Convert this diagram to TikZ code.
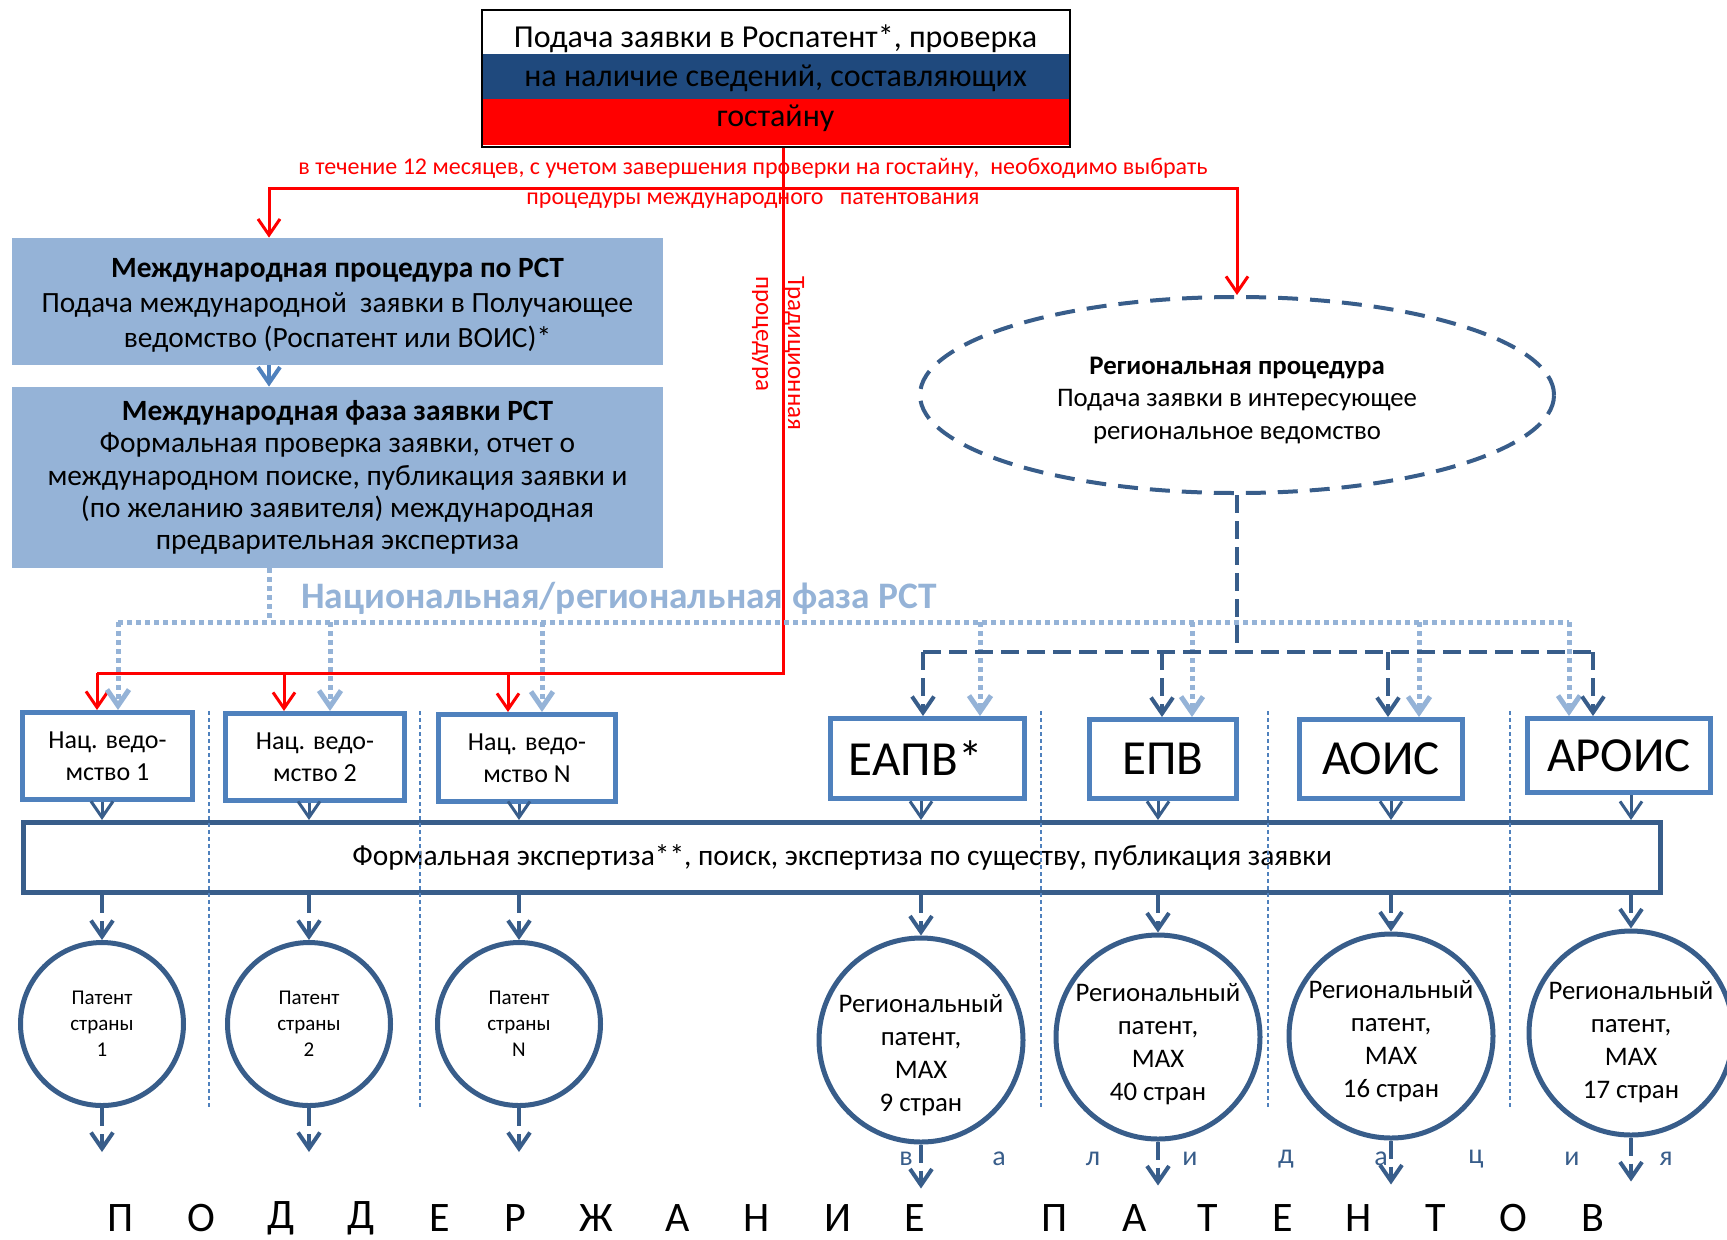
\documentclass[tikz,border=0pt]{standalone}
\usepackage{fontspec}
\setmainfont{Carlito}
\usepackage{tikz}
\usetikzlibrary{positioning}
\usetikzlibrary{arrows.meta}
\usetikzlibrary{shapes.geometric}
\usepackage{xcolor}
\definecolor{flagblue}{RGB}{31,73,125}
\definecolor{pctblue}{RGB}{149,179,215}
\definecolor{boxblue}{RGB}{79,129,189}
\definecolor{dkblue}{RGB}{56,93,138}

\begin{document}
\begin{tikzpicture}[x=0.5pt, y=-0.5pt, >={Straight Barb[length=8pt,width=11pt]},
    redline/.style={draw=red, line width=1.5pt},
    dkdash/.style={draw=dkblue, line width=2pt, dash pattern=on 9pt off 4pt},
    dkline/.style={draw=dkblue, line width=1.5pt},
    ltdot/.style={draw=pctblue, line width=2.5pt, dash pattern=on 2.5pt off 2pt},
    sep/.style={draw=boxblue, line width=0.75pt, dash pattern=on 2pt off 1.5pt},
    pctbox/.style={fill=pctblue, inner sep=0pt, align=center},
    natbox/.style={draw=boxblue, line width=2.5pt, inner sep=0pt, align=center, font=\fontsize{13}{16}\selectfont},
    regbox/.style={draw=boxblue, line width=2.5pt, inner sep=0pt, font=\fontsize{24.5}{28}\selectfont},
    patent/.style={circle, draw=dkblue, line width=2.5pt, inner sep=0pt, align=center},
    ptext/.style={align=center, inner sep=0pt, font=\fontsize{13.4}{16.5}\selectfont}]
    \useasboundingbox (0,0) rectangle (1727,1239);

    % top box in flag colours
    \fill[white] (481,7) rectangle (1070,54);
    \fill[flagblue] (481,54) rectangle (1070,99);
    \fill[red] (481,99) rectangle (1070,145);
    \node[draw, line width=1pt, minimum width=294pt, minimum height=68.5pt, inner sep=0pt, align=center,
        font=\fontsize{16}{19.75}\selectfont] (podacha) at (775.5,78)
        {Подача заявки в Роспатент*, проверка\\на наличие сведений, составляющих\\гостайну};

    \node[red, align=center, font=\fontsize{12}{15}\selectfont] (srok) at (753,183)
        {в течение 12 месяцев, с учетом завершения проверки на гостайну,\ \ необходимо выбрать\\процедуры международного\ \ \ патентования};

    % PCT
    \node[pctbox, minimum width=325.5pt, minimum height=63.5pt, font=\fontsize{14.7}{17.5}\selectfont] (mpct) at (337.5,301.5)
        {\rule{0pt}{13pt}\textbf{Международная процедура по РСТ}\\Подача международной\ \ заявки в Получающее\\ведомство (Роспатент или ВОИС)*};
    \node[pctbox, minimum width=325.5pt, minimum height=90.5pt, font=\fontsize{14.7}{16.1}\selectfont] (mfaza) at (337.5,477.5)
        {\textbf{Международная фаза заявки РСТ}\\Формальная проверка заявки, отчет о\\международном поиске, публикация заявки и\\(по желанию заявителя) международная\\предварительная экспертиза};

    \node[ellipse, draw=dkblue, line width=2pt, dash pattern=on 10pt off 6pt, minimum width=317pt, minimum height=98pt,
        align=center, font=\fontsize{13.4}{16.25}\selectfont] (reg) at (1237,395)
        {\rule{0pt}{14pt}\textbf{Региональная процедура}\\Подача заявки в интересующее\\региональное ведомство};

    \node[rotate=-90, anchor=west, inner sep=0pt, red, align=left, font=\fontsize{12.5}{16}\selectfont] (trad) at (778,276)
        {Традиционная\\процедура};

    \node[pctblue, font=\fontsize{18.7}{20}\selectfont\bfseries] (nacfaza) at (619,598)
        {Национальная/региональная фаза РСТ};

    % offices
    \node[natbox, minimum width=85pt, minimum height=43.5pt] (nat1) at (107.5,756) {Нац. ведо-\\мство 1};
    \node[natbox, minimum width=89.5pt, minimum height=43.5pt] (nat2) at (315,757) {Нац. ведо-\\мство 2};
    \node[natbox, minimum width=88.5pt, minimum height=43.5pt] (natn) at (527,758) {Нац. ведо-\\мство N};
    \node[regbox, minimum width=97pt, minimum height=40pt] (eapv) at (927.5,758.5) {ЕАПВ*\hspace*{12pt}};
    \node[regbox, minimum width=73.5pt, minimum height=39.5pt] (epv) at (1163,759) {ЕПВ};
    \node[regbox, minimum width=81.5pt, minimum height=39.5pt] (aois) at (1381,759) {АОИС};
    \node[regbox, minimum width=91.5pt, minimum height=37pt] (arois) at (1619,755.5) {АРОИС};

    \node[draw=dkblue, line width=2.5pt, minimum width=818.5pt, minimum height=35pt, inner sep=0pt,
        font=\fontsize{14.7}{16}\selectfont] (ekspertiza) at (842,857.5)
        {Формальная экспертиза**, поиск, экспертиза по существу, публикация заявки};

    % patents
    \node[patent, minimum size=81.5pt, font=\fontsize{10.5}{13}\selectfont] (pat1) at (102,1024) {Патент\\страны\\1};
    \node[patent, minimum size=81.5pt, font=\fontsize{10.5}{13}\selectfont] (pat2) at (309,1024) {Патент\\страны\\2};
    \node[patent, minimum size=81.5pt, font=\fontsize{10.5}{13}\selectfont] (patn) at (519,1024) {Патент\\страны\\N};
    \node[patent, minimum size=102pt, label={[ptext,yshift=-7.5pt]center:Региональный\\патент,\\MAX\\9 стран}] (peapv) at (921,1040) {};
    \node[patent, minimum size=102pt, label={[ptext,yshift=-3.75pt]center:Региональный\\патент,\\MAX\\40 стран}] (pepv) at (1158,1037) {};
    \node[patent, minimum size=102pt, label={[ptext,yshift=-2.75pt]center:Региональный\\патент,\\MAX\\16 стран}] (paois) at (1391,1036) {};
    \node[patent, minimum size=102pt, label={[ptext,yshift=-4.5pt]center:Региональный\\патент,\\MAX\\17 стран}] (parois) at (1631,1033) {};

    % column separators
    \foreach \sx in {209,420,1041,1268,1510}
        \draw[sep] (\sx,711) -- (\sx,1107);

    % red: traditional and the choice within 12 months
    \coordinate (r1) at (783,188);
    \coordinate (r2) at (783,673);
    \coordinate (lev) at (269,188);
    \coordinate (prav) at (1237,188);
    \coordinate (nl) at (97,673);
    \draw[redline] (podacha.south -| r1) -- (r2) -- (nl);
    \draw[redline,->] (r1) -- (lev) -- (lev |- mpct.north);
    \draw[redline,->] (r1) -- (prav) -- (reg.north);
    \foreach \xx/\nb in {97/nat1,284/nat2,508/natn}
        \draw[redline,->] (\xx,673) -- (\xx,673 |- \nb.north);

    \draw[draw=boxblue, line width=2pt, ->] (lev |- mpct.south) -- (lev |- mfaza.north);

    % national / regional phase PCT
    \coordinate (tl) at (269,622);
    \draw[ltdot] (lev |- mfaza.south) -- (tl);
    \draw[ltdot] (118,622) -- (1569,622);
    \foreach \xx/\nb in {118/nat1,330/nat2,542/natn,980/eapv,1192/epv,1419/aois,1569/arois}
        \draw[ltdot,->] (\xx,622) -- (\xx,622 |- \nb.north);

    % regional procedure
    \coordinate (dl) at (923,652);
    \coordinate (dr) at (1593,652);
    \draw[dkdash] (reg.south) -- (reg.south |- dl);
    \draw[dkdash] (dl) -- (dr);
    \foreach \xx/\rb in {923/eapv,1162/epv,1388/aois,1593/arois}
        \draw[dkdash,->] (\xx,652) -- (\xx,652 |- \rb.north);

    \foreach \bb/\pp in {nat1/pat1,nat2/pat2,natn/patn,eapv/peapv,epv/pepv,aois/paois,arois/parois} {
        \draw[dkline,->] (\bb.south -| \pp) -- (ekspertiza.north -| \pp);
        \draw[dkdash,->] (ekspertiza.south -| \pp) -- (\pp.north);
        \draw[dkdash,->] (\pp.south) -- ([yshift=-22pt]\pp.south);
    }

    % validation
    \foreach \vx/\vl [count=\i] in {906/в,999/а,1093/л,1190/и,1286/д,1381/а,1476/ц,1572/и,1666/я}
        \node[dkblue, font=\fontsize{14}{16}\selectfont] (v\i) at (\vx,1159) {\vl};

    % maintenance
    \foreach \bx/\bl [count=\i] in {121/П,201/О,281/Д,361/Д,440/Е,515/Р,596/Ж,678/А,757/Н,838/И,915/Е,
            1055/П,1135/А,1208/Т,1283/Е,1359/Н,1436/Т,1513/О,1593/В}
        \node[font=\fontsize{21}{24}\selectfont] (b\i) at (\bx,1218) {\bl};
\end{tikzpicture}
\end{document}
